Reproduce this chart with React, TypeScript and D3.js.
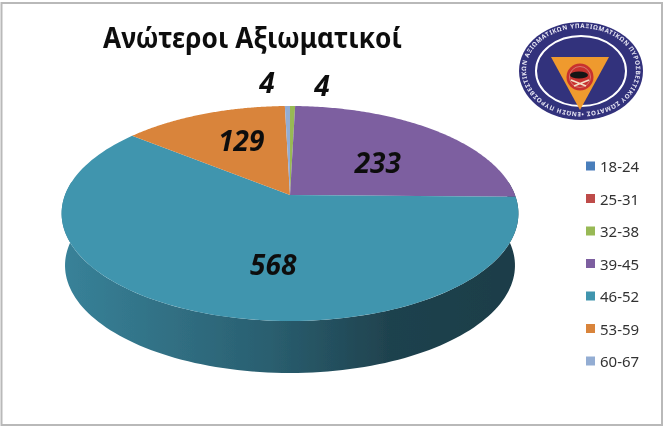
import React from "react";
import * as d3 from "d3";

const ageGroups = ["18-24", "25-31", "32-38", "39-45", "46-52", "53-59", "60-67"];
const officers = [0, 0, 4, 233, 568, 129, 4];
const colours = ["#4a7ebb", "#be4b48", "#98b954", "#7d5fa0", "#4095ae", "#d9843b", "#93add3"];
const title = "Ανώτεροι Αξιωματικοί";
const logoText = "ΕΝΩΣΗ ΠΥΡΟΣΒΕΣΤΙΚΩΝ ΑΞΙΩΜΑΤΙΚΩΝ ΥΠΑΞΙΩΜΑΤΙΚΩΝ ΠΥΡΟΣΒΕΣΤΙΚΟΥ ΣΩΜΑΤΟΣ •";

// Tilted-disc projection: the pie apex sits above the ellipse centre, as in a 3D perspective pie.
const cx = 290, cy = 195, spreadX = 225, spreadY = 104.3, tilt = -0.172, depth = 52;
const project = (angle: number, r = 1): [number, number] => {
  const u = Math.sin(angle) * r, v = -Math.cos(angle) * r;
  const w = 1 + tilt * v;
  return [cx + (spreadX * u) / w, cy + (spreadY * v) / w];
};
const line = d3.line<[number, number]>().x(d => d[0]).y(d => d[1]);
const arcPoints = (a0: number, a1: number) =>
  d3.range(0, 121).map(i => project(a0 + ((a1 - a0) * i) / 120));

const arcs = d3.pie<number>().sort(null)(officers);

// per-slice label placement: radius fraction, then pixel nudge
const labelPlacement: ([number, number, number] | null)[] = [
  null,
  null,
  [1.22, 29, -5],
  [0.62, -6, 9],
  [0.5, 25, 16],
  [0.66, 11, 1],
  [1.22, -20, -8],
];

const legendY = d3.scalePoint<string>().domain(ageGroups).range([166, 361]);

export default function App() {
  const sideStart = Math.PI / 2 - 0.13;
  const sideEnd = (3 * Math.PI) / 2 + 0.13;
  const rim = arcPoints(sideStart, sideEnd);
  const floor = rim.slice().reverse().map(p => [cx + (p[0] - cx) * 0.985, p[1] + depth] as [number, number]);
  const sidePath = line([...rim, ...floor]) + "Z";
  const font = "'Noto Sans', 'Open Sans', sans-serif";
  return (
    <svg width={669} height={428} style={{ position: "fixed", left: 0, top: 0 }}>
      <defs>
        <linearGradient id="side" x1="0" x2="1" y1="0" y2="0">
          <stop offset="0" stopColor="#388299" />
          <stop offset="0.45" stopColor="#2a5f70" />
          <stop offset="0.72" stopColor="#1f424e" />
          <stop offset="1" stopColor="#1d3d48" />
        </linearGradient>
        <path id="ring" d="M 581 112 A 55 42 0 1 1 581.01 112" />
        <filter id="soft" x="-5%" y="-5%" width="110%" height="110%">
          <feGaussianBlur stdDeviation="0.45" />
        </filter>
      </defs>
      <rect x={0} y={0} width={669} height={428} fill="#fff" />
      <rect x={1.5} y={3} width={660.5} height={422} fill="#fff" stroke="#b9b9b9" strokeWidth={2} />
      <g filter="url(#soft)">
        <path d={sidePath} fill="url(#side)" />
        {arcs.map((a, i) => {
          if (a.endAngle === a.startAngle) return null;
          const pts = arcPoints(a.startAngle, a.endAngle);
          return <path key={i} d={line([project(0, 0), ...pts])! + "Z"} fill={colours[i]} />;
        })}
        <text x={103} y={48} fontFamily={font} fontWeight={700} fontSize={28} textLength={299} lengthAdjust="spacingAndGlyphs" fill="#111">{title}</text>
        {arcs.map((a, i) => {
          const place = labelPlacement[i];
          if (!place) return null;
          const [x, y] = project((a.startAngle + a.endAngle) / 2, place[0]);
          return (
            <text key={i} x={x + place[1]} y={y + place[2]} textAnchor="middle" dominantBaseline="central" fontFamily={font} fontStyle="italic" fontWeight={700} fontSize={28} fill="#111">{officers[i]}</text>
          );
        })}
        {ageGroups.map((g, i) => (
          <g key={g}>
            <rect x={586} y={legendY(g)! - 4.5} width={9} height={9} fill={colours[i]} />
            <text x={600} y={legendY(g)!} dominantBaseline="central" fontFamily={font} fontSize={15} fill="#333">{g}</text>
          </g>
        ))}
        <g>
          <ellipse cx={581} cy={71} rx={62} ry={49} fill="#33317c" />
          <ellipse cx={581} cy={71} rx={45} ry={35} fill="#33317c" stroke="#fff" strokeWidth={2} />
          <text fontFamily={font} fontSize={6.2} fontWeight={700} fill="#e8e8f4">
            <textPath href="#ring" textLength={305}>{logoText}</textPath>
          </text>
          <polygon points="551,57 609,57 580,110" fill="#ef9a2e" />
          <circle cx={580} cy={77} r={13.5} fill="#c8332f" />
          <circle cx={580} cy={77} r={10.5} fill="none" stroke="#d98a80" strokeWidth={0.8} />
          <ellipse cx={579} cy={75} rx={9} ry={3.6} fill="#141414" />
          <path d="M 571 80 L 586 86 M 589 80 L 574 86" stroke="#f3e0c8" strokeWidth={1.5} />
        </g>
      </g>
    </svg>
  );
}
